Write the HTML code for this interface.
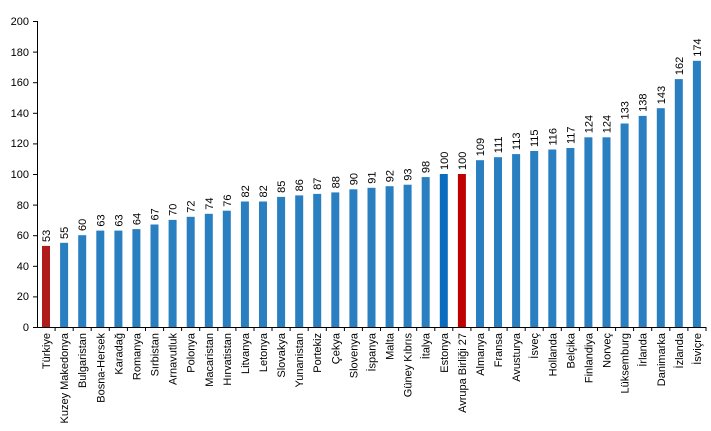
<!DOCTYPE html>
<html><head><meta charset="utf-8"><style>
body{margin:0;background:#fff}
svg{display:block;font-family:"Liberation Sans",Arial,sans-serif;font-size:11px;fill:#000}
</style></head><body>
<svg width="711" height="431" viewBox="0 0 711 431" xmlns="http://www.w3.org/2000/svg">
<g text-anchor="end">
<text x="29" y="331">0</text><text x="29" y="300">20</text><text x="29" y="270">40</text><text x="29" y="239">60</text><text x="29" y="209">80</text><text x="29" y="178">100</text><text x="29" y="147">120</text><text x="29" y="117">140</text><text x="29" y="86">160</text><text x="29" y="56">180</text><text x="29" y="25">200</text>
</g>
<g stroke="#000" stroke-width="1">
<line x1="37.5" y1="21" x2="37.5" y2="327"/>
<line x1="33" y1="327.5" x2="706" y2="327.5"/>
<line x1="33" y1="296.9" x2="37" y2="296.9"/><line x1="33" y1="266.3" x2="37" y2="266.3"/><line x1="33" y1="235.7" x2="37" y2="235.7"/><line x1="33" y1="205.1" x2="37" y2="205.1"/><line x1="33" y1="174.5" x2="37" y2="174.5"/><line x1="33" y1="143.9" x2="37" y2="143.9"/><line x1="33" y1="113.3" x2="37" y2="113.3"/><line x1="33" y1="82.7" x2="37" y2="82.7"/><line x1="33" y1="52.1" x2="37" y2="52.1"/><line x1="33" y1="21.5" x2="37" y2="21.5"/>
<path d="M55.1 327v4M73.2 327v4M91.2 327v4M109.3 327v4M127.4 327v4M145.5 327v4M163.6 327v4M181.6 327v4M199.7 327v4M217.8 327v4M235.9 327v4M254 327v4M272 327v4M290.1 327v4M308.2 327v4M326.3 327v4M344.4 327v4M362.4 327v4M380.5 327v4M398.6 327v4M416.7 327v4M434.8 327v4M452.8 327v4M470.9 327v4M489 327v4M507.1 327v4M525.2 327v4M543.2 327v4M561.3 327v4M579.4 327v4M597.5 327v4M615.6 327v4M633.6 327v4M651.7 327v4M669.8 327v4M687.9 327v4M706 327v4"/>
</g>
<g fill="#2a7fc1">
<rect x="42.0" y="245.9" width="8" height="81.1" fill="#b01c1c"/>
<rect x="60.1" y="242.8" width="8" height="84.2"/>
<rect x="78.2" y="235.2" width="8" height="91.8"/>
<rect x="96.3" y="230.6" width="8" height="96.4"/>
<rect x="114.4" y="230.6" width="8" height="96.4"/>
<rect x="132.4" y="229.1" width="8" height="97.9"/>
<rect x="150.5" y="224.5" width="8" height="102.5"/>
<rect x="168.6" y="219.9" width="8" height="107.1"/>
<rect x="186.7" y="216.8" width="8" height="110.2"/>
<rect x="204.8" y="213.8" width="8" height="113.2"/>
<rect x="222.8" y="210.7" width="8" height="116.3"/>
<rect x="240.9" y="201.5" width="8" height="125.5"/>
<rect x="259.0" y="201.5" width="8" height="125.5"/>
<rect x="277.1" y="196.9" width="8" height="130.1"/>
<rect x="295.2" y="195.4" width="8" height="131.6"/>
<rect x="313.2" y="193.9" width="8" height="133.1"/>
<rect x="331.3" y="192.4" width="8" height="134.6"/>
<rect x="349.4" y="189.3" width="8" height="137.7"/>
<rect x="367.5" y="187.8" width="8" height="139.2"/>
<rect x="385.6" y="186.2" width="8" height="140.8"/>
<rect x="403.6" y="184.7" width="8" height="142.3"/>
<rect x="421.7" y="177.1" width="8" height="149.9"/>
<rect x="439.8" y="174" width="8" height="153" fill="#0a6cbf"/>
<rect x="457.9" y="174" width="8" height="153" fill="#c00000"/>
<rect x="476.0" y="160.2" width="8" height="166.8"/>
<rect x="494.0" y="157.2" width="8" height="169.8"/>
<rect x="512.1" y="154.1" width="8" height="172.9"/>
<rect x="530.2" y="151" width="8" height="176"/>
<rect x="548.3" y="149.5" width="8" height="177.5"/>
<rect x="566.4" y="148" width="8" height="179"/>
<rect x="584.4" y="137.3" width="8" height="189.7"/>
<rect x="602.5" y="137.3" width="8" height="189.7"/>
<rect x="620.6" y="123.5" width="8" height="203.5"/>
<rect x="638.7" y="115.9" width="8" height="211.1"/>
<rect x="656.8" y="108.2" width="8" height="218.8"/>
<rect x="674.8" y="79.1" width="8" height="247.9"/>
<rect x="692.9" y="60.8" width="8" height="266.2"/>
</g>
<g text-anchor="start">
<text transform="translate(50,242) rotate(-90)">53</text>
<text transform="translate(68.1,239) rotate(-90)">55</text>
<text transform="translate(86.2,231) rotate(-90)">60</text>
<text transform="translate(104.3,226.6) rotate(-90)">63</text>
<text transform="translate(122.4,226.6) rotate(-90)">63</text>
<text transform="translate(140.4,225.1) rotate(-90)">64</text>
<text transform="translate(158.5,220.5) rotate(-90)">67</text>
<text transform="translate(176.6,215.9) rotate(-90)">70</text>
<text transform="translate(194.7,212.8) rotate(-90)">72</text>
<text transform="translate(212.8,209.8) rotate(-90)">74</text>
<text transform="translate(230.8,206.7) rotate(-90)">76</text>
<text transform="translate(248.9,197.5) rotate(-90)">82</text>
<text transform="translate(267,197.5) rotate(-90)">82</text>
<text transform="translate(285.1,192.9) rotate(-90)">85</text>
<text transform="translate(303.2,191.4) rotate(-90)">86</text>
<text transform="translate(321.2,189.9) rotate(-90)">87</text>
<text transform="translate(339.3,188.4) rotate(-90)">88</text>
<text transform="translate(357.4,185.3) rotate(-90)">90</text>
<text transform="translate(375.5,183.8) rotate(-90)">91</text>
<text transform="translate(393.6,182.2) rotate(-90)">92</text>
<text transform="translate(411.6,180.7) rotate(-90)">93</text>
<text transform="translate(429.7,173.1) rotate(-90)">98</text>
<text transform="translate(447.8,170) rotate(-90)">100</text>
<text transform="translate(465.9,170) rotate(-90)">100</text>
<text transform="translate(484,156.2) rotate(-90)">109</text>
<text transform="translate(502,153.2) rotate(-90)">111</text>
<text transform="translate(520.1,150.1) rotate(-90)">113</text>
<text transform="translate(538.2,147) rotate(-90)">115</text>
<text transform="translate(556.3,145.5) rotate(-90)">116</text>
<text transform="translate(574.4,144) rotate(-90)">117</text>
<text transform="translate(592.4,133.3) rotate(-90)">124</text>
<text transform="translate(610.5,133.3) rotate(-90)">124</text>
<text transform="translate(628.6,119.5) rotate(-90)">133</text>
<text transform="translate(646.7,111.9) rotate(-90)">138</text>
<text transform="translate(664.8,104.2) rotate(-90)">143</text>
<text transform="translate(682.8,75.1) rotate(-90)">162</text>
<text transform="translate(700.9,56.8) rotate(-90)">174</text>
</g>
<g text-anchor="end">
<text transform="translate(50,333) rotate(-90)">Türkiye</text>
<text transform="translate(68.1,333) rotate(-90)">Kuzey Makedonya</text>
<text transform="translate(86.2,333) rotate(-90)">Bulgaristan</text>
<text transform="translate(104.3,333) rotate(-90)">Bosna-Hersek</text>
<text transform="translate(122.4,333) rotate(-90)">Karadağ</text>
<text transform="translate(140.4,333) rotate(-90)">Romanya</text>
<text transform="translate(158.5,333) rotate(-90)">Sırbistan</text>
<text transform="translate(176.6,333) rotate(-90)">Arnavutluk</text>
<text transform="translate(194.7,333) rotate(-90)">Polonya</text>
<text transform="translate(212.8,333) rotate(-90)">Macaristan</text>
<text transform="translate(230.8,333) rotate(-90)">Hırvatistan</text>
<text transform="translate(248.9,333) rotate(-90)">Litvanya</text>
<text transform="translate(267,333) rotate(-90)">Letonya</text>
<text transform="translate(285.1,333) rotate(-90)">Slovakya</text>
<text transform="translate(303.2,333) rotate(-90)">Yunanistan</text>
<text transform="translate(321.2,333) rotate(-90)">Portekiz</text>
<text transform="translate(339.3,333) rotate(-90)">Çekya</text>
<text transform="translate(357.4,333) rotate(-90)">Slovenya</text>
<text transform="translate(375.5,333) rotate(-90)">İspanya</text>
<text transform="translate(393.6,333) rotate(-90)">Malta</text>
<text transform="translate(411.6,333) rotate(-90)">Güney Kıbrıs</text>
<text transform="translate(429.7,333) rotate(-90)">İtalya</text>
<text transform="translate(447.8,333) rotate(-90)">Estonya</text>
<text transform="translate(465.9,333) rotate(-90)">Avrupa Birliği 27</text>
<text transform="translate(484,333) rotate(-90)">Almanya</text>
<text transform="translate(502,333) rotate(-90)">Fransa</text>
<text transform="translate(520.1,333) rotate(-90)">Avusturya</text>
<text transform="translate(538.2,333) rotate(-90)">İsveç</text>
<text transform="translate(556.3,333) rotate(-90)">Hollanda</text>
<text transform="translate(574.4,333) rotate(-90)">Belçika</text>
<text transform="translate(592.4,333) rotate(-90)">Finlandiya</text>
<text transform="translate(610.5,333) rotate(-90)">Norveç</text>
<text transform="translate(628.6,333) rotate(-90)">Lüksemburg</text>
<text transform="translate(646.7,333) rotate(-90)">İrlanda</text>
<text transform="translate(664.8,333) rotate(-90)">Danimarka</text>
<text transform="translate(682.8,333) rotate(-90)">İzlanda</text>
<text transform="translate(700.9,333) rotate(-90)">İsviçre</text>
</g>
</svg>
</body></html>
